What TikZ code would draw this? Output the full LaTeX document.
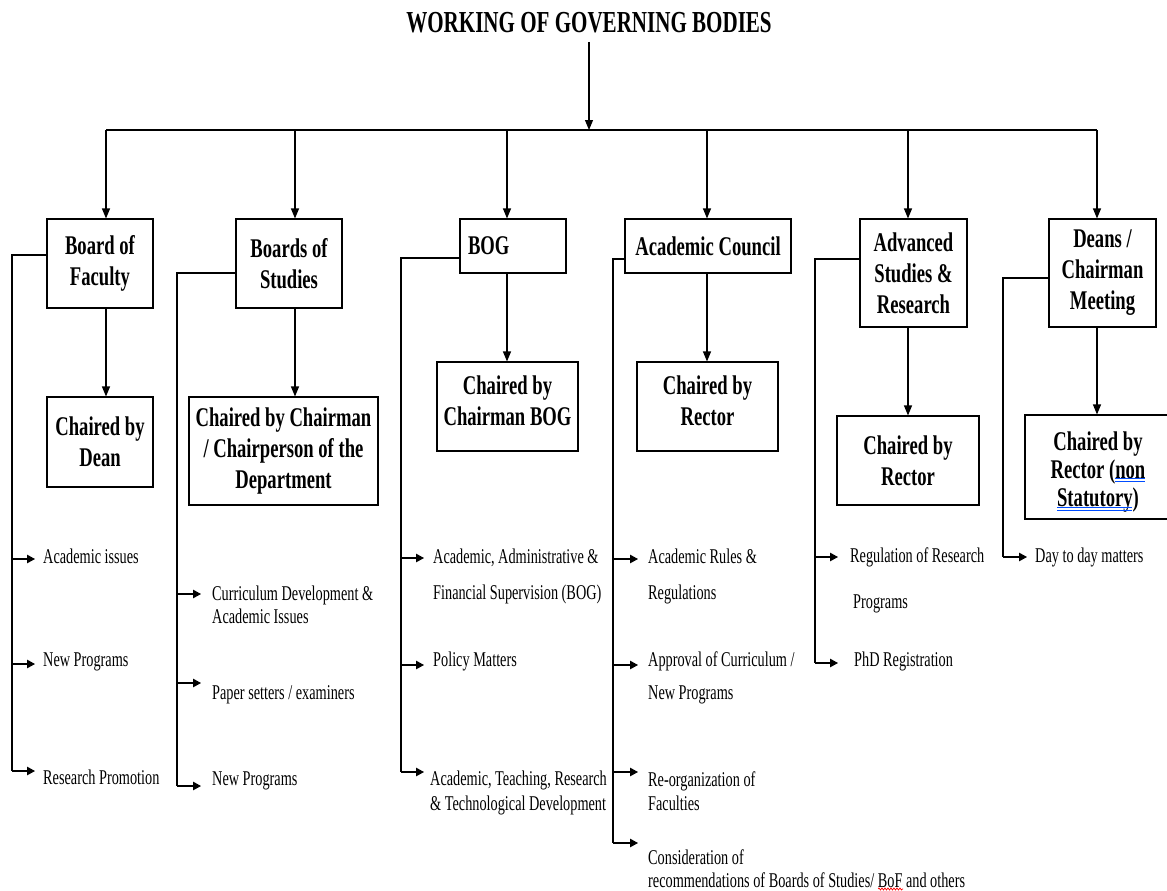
\documentclass[tikz,border=0pt]{standalone}
\usepackage{fontspec}
\usetikzlibrary{arrows.meta,decorations.pathmorphing}
\newfontfamily\tnr[FakeStretch=0.68]{Liberation Serif}
\newfontfamily\tnrbx[FakeStretch=0.69]{Liberation Serif}
\newcommand\boxfont{\fontsize{27}{31}\selectfont\tnrbx\bfseries}
\newcommand\itemfont{\fontsize{21}{24}\selectfont\tnr}
\newcommand\titlefont{\fontsize{30.5}{34}\selectfont\tnrbx\bfseries}
\tikzset{
  box/.style={draw, line width=1.1pt, inner sep=2pt, align=center, font=\boxfont},
  item/.style={anchor=base west, inner sep=0pt, font=\itemfont},
  link/.style={line width=1.1pt},
  harr/.style={link, -{Triangle[length=8pt,width=8.5pt]}},
  varr/.style={link, -{Triangle[length=10pt,width=8pt]}},
  spell/.style={blue!70!cyan, line width=0.8pt},
}
\begin{document}
\begin{tikzpicture}[x=1pt,y=-1pt]
\useasboundingbox (0,0) rectangle (1167,891);
\fill[white] (0,0) rectangle (1167,891);

% title and bus
\node[inner sep=0pt, font=\titlefont] (title) at (589,23) {WORKING OF GOVERNING BODIES};
\coordinate (t0) at (589,42);
\coordinate (bus) at (589,130);
\coordinate (d1) at (106,130);
\coordinate (d2) at (295,130);
\coordinate (d3) at (507,130);
\coordinate (d4) at (707,130);
\coordinate (d5) at (908,130);
\coordinate (d6) at (1097,130);
\draw[varr] (t0) -- (bus);
\draw[link] (d1) -- (d6);

% top boxes
\node[box, minimum width=106pt, minimum height=89pt] (bf) at (100,263.5) {Board of\\Faculty};
\node[box, minimum width=106pt, minimum height=89pt] (bs) at (289,263.5) {Boards of\\Studies};
\node[box, minimum width=106pt, minimum height=54pt, text width=90pt, inner xsep=8pt, align=left] (bog) at (513,246) {BOG};
\node[box, minimum width=166pt, minimum height=54pt] (ac) at (708,246) {Academic Council};
\node[box, minimum width=107pt, minimum height=108pt] (adv) at (913.5,273) {Advanced\\Studies \&\\Research};
\node[box, minimum width=107pt, minimum height=108pt] (dc) at (1102.5,273) {Deans /\\Chairman\\Meeting};

% second-row boxes
\node[box, minimum width=106pt, minimum height=90pt] (dean) at (100,442) {Chaired by\\Dean};
\node[box, minimum width=189pt, minimum height=108pt] (bsc) at (283.5,451) {Chaired by Chairman\\/ Chairperson of the\\Department};
\node[box, minimum width=141pt, minimum height=89pt] (bogc) at (507.5,406.5) {Chaired by\\Chairman BOG\rule[-12pt]{0pt}{1pt}};
\node[box, minimum width=141pt, minimum height=89pt] (acc) at (707.5,406.5) {Chaired by\\Rector\rule[-12pt]{0pt}{1pt}};
\node[box, minimum width=142pt, minimum height=89pt] (advc) at (908,460.5) {Chaired by\\Rector};
\node[box, minimum width=146pt, minimum height=104pt, font=\fontsize{27}{28}\selectfont\tnrbx\bfseries] (dcc) at (1098,467) {\rule{0pt}{29.5pt}Chaired by\\Rector (non\\Statutory)};

% drops from bus
\foreach \d/\b in {d1/bf,d2/bs,d3/bog,d4/ac,d5/adv,d6/dc}
  \draw[varr] (\d) -- (\d |- \b.north);
% arrows to chair boxes
\draw[varr] (d1 |- bf.south) -- (d1 |- dean.north);
\draw[varr] (d2 |- bs.south) -- (d2 |- bsc.north);
\draw[varr] (d3 |- bog.south) -- (d3 |- bogc.north);
\draw[varr] (d4 |- ac.south) -- (d4 |- acc.north);
\draw[varr] (d5 |- adv.south) -- (d5 |- advc.north);
\draw[varr] (d6 |- dc.south) -- (d6 |- dcc.north);

% ---------- Board of Faculty items
\coordinate (bfL) at (12,255);
\coordinate (bfa1) at (35,559);
\coordinate (bfa2) at (35,664);
\coordinate (bfa3) at (35,771);
\draw[link] (bf.west |- bfL) -- (bfL) -- (bfL |- bfa3);
\foreach \a in {bfa1,bfa2,bfa3} \draw[harr] (bfL |- \a) -- (\a);
\node[item] (bf1) at (43,563) {Academic issues};
\node[item] (bf2) at (43,666) {New Programs};
\node[item] (bf3) at (43,784) {Research Promotion};

% ---------- Boards of Studies items
\coordinate (bsL) at (177,273);
\coordinate (bsa1) at (201,594);
\coordinate (bsa2) at (201,683);
\coordinate (bsa3) at (201,786);
\draw[link] (bs.west |- bsL) -- (bsL) -- (bsL |- bsa3);
\foreach \a in {bsa1,bsa2,bsa3} \draw[harr] (bsL |- \a) -- (\a);
\node[item] (bs1) at (212,600) {Curriculum Development \&};
\node[item] (bs1b) at (212,623) {Academic Issues};
\node[item] (bs2) at (212,699) {Paper setters / examiners};
\node[item] (bs3) at (212,785) {New Programs};

% ---------- BOG items
\coordinate (bogL) at (401,258);
\coordinate (boga1) at (424,558);
\coordinate (boga2) at (424,665);
\coordinate (boga3) at (424,772);
\draw[link] (bog.west |- bogL) -- (bogL) -- (bogL |- boga3);
\foreach \a in {boga1,boga2,boga3} \draw[harr] (bogL |- \a) -- (\a);
\node[item] (bog1) at (433,563) {Academic, Administrative \&};
\node[item] (bog1b) at (433,599) {Financial Supervision (BOG)};
\node[item] (bog2) at (433,666) {Policy Matters};
\node[item] (bog3) at (430,785) {Academic, Teaching, Research};
\node[item] (bog3b) at (430,810) {\& Technological Development};

% ---------- Academic Council items
\coordinate (acL) at (613,259);
\coordinate (aca1) at (638,559);
\coordinate (aca2) at (638,665);
\coordinate (aca3) at (638,772);
\coordinate (aca4) at (638,843);
\draw[link] (ac.west |- acL) -- (acL) -- (acL |- aca4);
\foreach \a in {aca1,aca2,aca3,aca4} \draw[harr] (acL |- \a) -- (\a);
\node[item] (ac1) at (648,563) {Academic Rules \&};
\node[item] (ac1b) at (648,599) {Regulations};
\node[item] (ac2) at (648,666) {Approval of Curriculum /};
\node[item] (ac2b) at (648,699) {New Programs};
\node[item] (ac3) at (648,786) {Re-organization of};
\node[item] (ac3b) at (648,810) {Faculties};
\node[item] (ac4) at (648,864) {Consideration of};
\node[item] (ac4b) at (648,887) {recommendations of Boards of Studies/ BoF and others};

% ---------- Advanced Studies items
\coordinate (advL) at (815,259);
\coordinate (adva1) at (838,557);
\coordinate (adva2) at (838,663);
\draw[link] (adv.west |- advL) -- (advL) -- (advL |- adva2);
\foreach \a in {adva1,adva2} \draw[harr] (advL |- \a) -- (\a);
\node[item] (adv1) at (850,562) {Regulation of Research};
\node[item] (adv1b) at (853,608) {Programs};
\node[item] (adv2) at (854,666) {PhD Registration};

% ---------- Deans items
\coordinate (dcL) at (1003,278);
\coordinate (dca1) at (1027,557);
\draw[link] (dc.west |- dcL) -- (dcL) -- (dcL |- dca1);
\draw[harr] (dcL |- dca1) -- (dca1);
\node[item] (dc1) at (1035,562) {Day to day matters};

% spell-check marks
\draw[spell] (1115,478.5) -- (1145,478.5) (1115,481.5) -- (1145,481.5);
\draw[spell] (1057,507.5) -- (1132,507.5) (1057,510.5) -- (1132,510.5);
\draw[red, line width=0.7pt, decorate, decoration={snake, amplitude=1pt, segment length=3pt}] (878,889) -- (903,889);
\end{tikzpicture}
\end{document}
